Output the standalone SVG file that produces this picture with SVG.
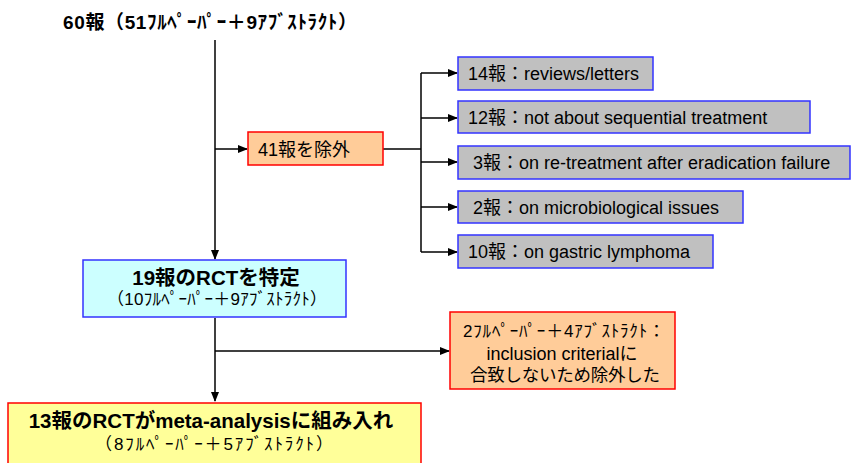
<svg xmlns="http://www.w3.org/2000/svg" width="851" height="463" viewBox="0 0 851 463">
<defs>
<marker id="ah" markerWidth="10" markerHeight="8" refX="9" refY="4" orient="auto" markerUnits="userSpaceOnUse">
<path d="M0,0 L10,4 L0,8 Z" fill="#000"/>
</marker>
<style>
text{font-family:"Liberation Sans","Noto Sans CJK JP",Arial,sans-serif;font-size:18px;fill:#000}
.b{font-weight:bold}
.gray{fill:#C0C0C0;stroke:#3333FF;stroke-width:1.5}
.orange{fill:#FFCC99;stroke:#FF0000;stroke-width:1.5}
.cyan{fill:#CCFFFF;stroke:#3333FF;stroke-width:1.5}
.yellow{fill:#FFFF99;stroke:#FF0000;stroke-width:1.5}
.c{text-anchor:middle}
.ln{stroke:#000;stroke-width:1.5;fill:none}
</style>
</defs>
<rect width="851" height="463" fill="#fff"/>
<g id="connectors">
<line class="ln" x1="215" y1="40" x2="215" y2="259" marker-end="url(#ah)"/>
<line class="ln" x1="215" y1="149" x2="247" y2="149" marker-end="url(#ah)"/>
<line class="ln" x1="383" y1="149" x2="421" y2="149"/>
<line class="ln" x1="421" y1="73" x2="421" y2="252"/>
<line class="ln" x1="421" y1="73" x2="457" y2="73" marker-end="url(#ah)"/>
<line class="ln" x1="421" y1="118" x2="457" y2="118" marker-end="url(#ah)"/>
<line class="ln" x1="421" y1="162" x2="457" y2="162" marker-end="url(#ah)"/>
<line class="ln" x1="421" y1="207" x2="457" y2="207" marker-end="url(#ah)"/>
<line class="ln" x1="421" y1="252" x2="457" y2="252" marker-end="url(#ah)"/>
<line class="ln" x1="215" y1="318" x2="215" y2="401" marker-end="url(#ah)"/>
<line class="ln" x1="215" y1="351" x2="449" y2="351" marker-end="url(#ah)"/>
</g>
<g id="n-start">
<text class="b" x="63" y="29" style="font-size:19px" textLength="294" lengthAdjust="spacing">60報（51ﾌﾙﾍﾟｰﾊﾟｰ＋9ｱﾌﾞｽﾄﾗｸﾄ）</text>
</g>
<g id="n-exclude41">
<rect class="orange" x="248" y="132" width="135" height="33"/>
<text x="258" y="156">41報を除外</text>
</g>
<g id="n-ex14">
<rect class="gray" x="458" y="57" width="195" height="33"/>
<text x="468" y="80">14報：reviews/letters</text>
</g>
<g id="n-ex12">
<rect class="gray" x="458" y="101" width="352" height="32"/>
<text x="468" y="124">12報：not about sequential treatment</text>
</g>
<g id="n-ex3">
<rect class="gray" x="458" y="146" width="392" height="33"/>
<text x="473" y="169">3報：on re-treatment after eradication failure</text>
</g>
<g id="n-ex2">
<rect class="gray" x="458" y="191" width="285" height="32"/>
<text x="473" y="214">2報：on microbiological issues</text>
</g>
<g id="n-ex10">
<rect class="gray" x="458" y="235" width="255" height="33"/>
<text x="468" y="258">10報：on gastric lymphoma</text>
</g>
<g id="n-rct19">
<rect class="cyan" x="83" y="260" width="263" height="57"/>
<text class="b c" x="216" y="285" style="font-size:20.5px">19報のRCTを特定</text>
<text x="107" y="305" style="font-size:17px" textLength="220" lengthAdjust="spacing">（10ﾌﾙﾍﾟｰﾊﾟｰ＋9ｱﾌﾞｽﾄﾗｸﾄ）</text>
</g>
<g id="n-exclude6">
<rect class="orange" x="450" y="312" width="225" height="77"/>
<text x="463" y="337" style="font-size:17px" textLength="202" lengthAdjust="spacing">2ﾌﾙﾍﾟｰﾊﾟｰ＋4ｱﾌﾞｽﾄﾗｸﾄ：</text>
<text class="c" x="562" y="360">inclusion criterialに</text>
<text x="470" y="381" style="font-size:17.5px" textLength="190" lengthAdjust="spacing">合致しないため除外した</text>
</g>
<g id="n-final13">
<rect class="yellow" x="8" y="403" width="413" height="70"/>
<text class="b c" x="211" y="428" style="font-size:20.5px">13報のRCTがmeta-analysisに組み入れ</text>
<text x="95" y="450" style="font-size:17px" textLength="238" lengthAdjust="spacing">（8ﾌﾙﾍﾟｰﾊﾟｰ＋5ｱﾌﾞｽﾄﾗｸﾄ）</text>
</g>
</svg>
